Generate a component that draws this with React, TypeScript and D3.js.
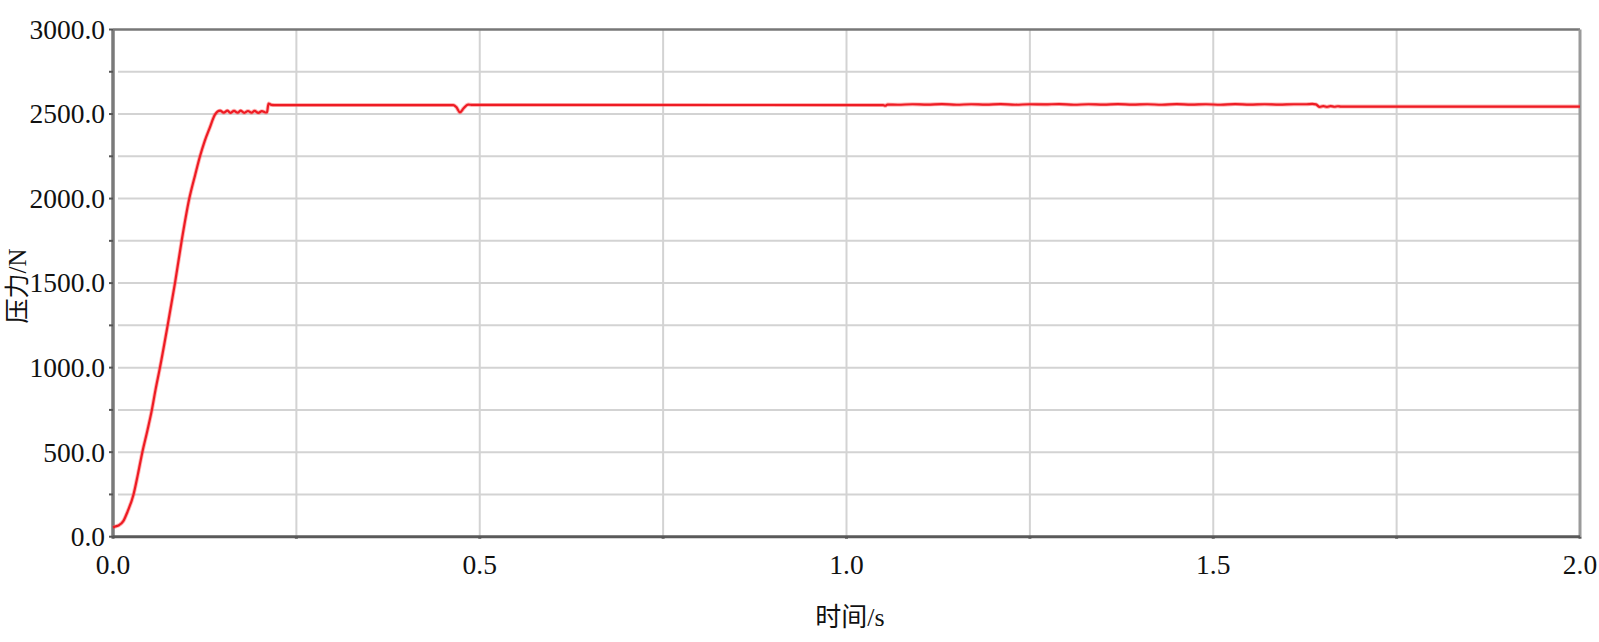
import React, { useEffect, useRef } from 'react';
import * as d3 from 'd3';

// force rise (s, N)
const riseTime = [0, 0.003, 0.008, 0.014, 0.020, 0.028, 0.034, 0.040, 0.047, 0.053, 0.058, 0.064, 0.0745, 0.0845, 0.0936, 0.104, 0.112, 0.1186, 0.125, 0.132, 0.139, 0.146];
const riseForce = [55, 60, 68, 92, 150, 250, 370, 500, 630, 750, 870, 1000, 1250, 1500, 1750, 2000, 2140, 2250, 2340, 2420, 2497, 2520];

// small oscillation before the step
const wiggleTime = [0.151, 0.156, 0.160, 0.165, 0.170, 0.174, 0.179, 0.184, 0.189, 0.193, 0.198, 0.203, 0.208, 0.210];
const wiggleForce = [2508, 2520, 2507, 2519, 2508, 2520, 2507, 2518, 2508, 2519, 2507, 2517, 2509, 2511];

// step up and hold, with the dip near 0.47 s
const holdTime = [0.212, 0.216, 0.220, 0.464, 0.468, 0.473, 0.478, 0.484, 0.490, 1.050, 1.053, 1.056];
const holdForce = [2562, 2554, 2553, 2553, 2541, 2510, 2534, 2556, 2554, 2553, 2549, 2556];

// ripple between ~1.06 s and 1.62 s
const rippleTime = [1.07, 1.09, 1.11, 1.13, 1.15, 1.17, 1.19, 1.21, 1.23, 1.25, 1.27, 1.29, 1.31, 1.33, 1.35, 1.37, 1.39, 1.41, 1.43, 1.45, 1.47, 1.49, 1.51, 1.53, 1.55, 1.57, 1.59, 1.61];
const rippleForce = [2555, 2558, 2556, 2559, 2555, 2558, 2556, 2559, 2555, 2558, 2557, 2559, 2555, 2558, 2556, 2559, 2556, 2558, 2555, 2559, 2556, 2558, 2555, 2559, 2556, 2558, 2556, 2558];

// drop and settle
const tailTime = [1.627, 1.635, 1.640, 1.645, 1.650, 1.655, 1.660, 1.665, 1.670, 1.674, 2.0];
const tailForce = [2558, 2560, 2557, 2542, 2547, 2542, 2547, 2543, 2546, 2544, 2544];

const yTickValues = [0, 500, 1000, 1500, 2000, 2500, 3000];
const xTickValues = [0, 0.5, 1.0, 1.5, 2.0];
const yGridValues = [250, 500, 750, 1000, 1250, 1500, 1750, 2000, 2250, 2500, 2750];
const xGridValues = [0.25, 0.5, 0.75, 1.0, 1.25, 1.5, 1.75];

const xTitle = '时间/s';
const yTitle = '压力/N';

export default function App() {
  const ref = useRef<SVGSVGElement>(null);

  useEffect(() => {
    const svg = d3.select(ref.current);
    svg.selectAll('*').remove();

    const left = 113, right = 1580, top = 29.5, bottom = 536.7;
    const x = d3.scaleLinear().domain([0, 2]).range([left, right]);
    const y = d3.scaleLinear().domain([0, 3000]).range([bottom, top]);

    const time = [...riseTime, ...wiggleTime, ...holdTime, ...rippleTime, ...tailTime];
    const force = [...riseForce, ...wiggleForce, ...holdForce, ...rippleForce, ...tailForce];
    const points = time.map((t, i) => [t, force[i]] as [number, number]);

    const font = '"Liberation Serif", "Times New Roman", serif';

    // grid
    svg.append('g').selectAll('line')
      .data(yGridValues).enter().append('line')
      .attr('x1', left + 5).attr('x2', right)
      .attr('y1', (d) => y(d)).attr('y2', (d) => y(d))
      .attr('stroke', '#d3d3d3').attr('stroke-width', 2);

    svg.append('g').selectAll('line')
      .data(xGridValues).enter().append('line')
      .attr('x1', (d) => x(d)).attr('x2', (d) => x(d))
      .attr('y1', top).attr('y2', bottom)
      .attr('stroke', '#d3d3d3').attr('stroke-width', 2);

    // frame
    svg.append('line').attr('x1', left).attr('x2', right).attr('y1', top).attr('y2', top)
      .attr('stroke', '#777').attr('stroke-width', 2.5);
    svg.append('line').attr('x1', right).attr('x2', right).attr('y1', top).attr('y2', bottom)
      .attr('stroke', '#9a9a9a').attr('stroke-width', 3);
    svg.append('line').attr('x1', left).attr('x2', left).attr('y1', top).attr('y2', bottom)
      .attr('stroke', '#7a7a7a').attr('stroke-width', 3.5);
    svg.append('line').attr('x1', left).attr('x2', right).attr('y1', bottom).attr('y2', bottom)
      .attr('stroke', '#5a5a5a').attr('stroke-width', 3);

    // small tick marks
    svg.append('g').selectAll('line')
      .data([...yGridValues, 0, 3000]).enter().append('line')
      .attr('x1', left - 4).attr('x2', left)
      .attr('y1', (d) => y(d)).attr('y2', (d) => y(d))
      .attr('stroke', '#555').attr('stroke-width', 2);
    svg.append('g').selectAll('line')
      .data([0, ...xGridValues, 2]).enter().append('line')
      .attr('x1', (d) => x(d)).attr('x2', (d) => x(d))
      .attr('y1', bottom).attr('y2', bottom + 2)
      .attr('stroke', '#555').attr('stroke-width', 3);

    // force curve
    const line = d3.line<[number, number]>()
      .x((d) => x(d[0]))
      .y((d) => y(d[1]))
      .curve(d3.curveMonotoneX);

    svg.append('path')
      .datum(points)
      .attr('d', line)
      .attr('fill', 'none')
      .attr('stroke', '#ff5a5a')
      .attr('stroke-opacity', 0.45)
      .attr('stroke-width', 4)
      .attr('stroke-linejoin', 'round');
    svg.append('path')
      .datum(points)
      .attr('d', line)
      .attr('fill', 'none')
      .attr('stroke', '#ee1c24')
      .attr('stroke-width', 2.2)
      .attr('stroke-linejoin', 'round');

    // tick labels
    svg.append('g').selectAll('text')
      .data(yTickValues).enter().append('text')
      .attr('x', 105).attr('y', (d) => y(d)).attr('dy', '0.34em')
      .attr('text-anchor', 'end')
      .style('font-family', font).style('font-size', '27.5px').attr('fill', '#111')
      .text((d) => d3.format('.1f')(d));

    svg.append('g').selectAll('text')
      .data(xTickValues).enter().append('text')
      .attr('x', (d) => x(d)).attr('y', 574)
      .attr('text-anchor', 'middle')
      .style('font-family', font).style('font-size', '27.5px').attr('fill', '#111')
      .text((d) => d3.format('.1f')(d));

    // axis titles
    const cjkFont = '"Liberation Serif", "Noto Sans CJK SC", serif';
    svg.append('text')
      .attr('x', 850).attr('y', 626)
      .attr('text-anchor', 'middle')
      .style('font-family', cjkFont).style('font-size', '26px').attr('fill', '#111')
      .text(xTitle);

    svg.append('text')
      .attr('transform', 'translate(26,286) rotate(-90)')
      .attr('text-anchor', 'middle')
      .style('font-family', cjkFont).style('font-size', '25px').attr('fill', '#111')
      .text(yTitle);
  }, []);

  return (
    <svg ref={ref} width={1599} height={642}
      style={{ position: 'absolute', left: 0, top: 0, display: 'block', background: '#fff' }} />
  );
}
